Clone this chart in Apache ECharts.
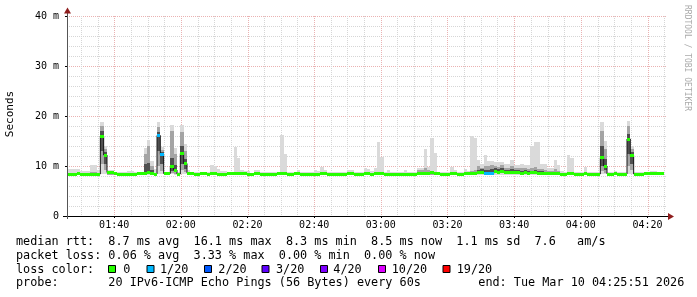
<!DOCTYPE html>
<html><head><meta charset="utf-8">
<script src="https://cdn.jsdelivr.net/npm/echarts@6/dist/echarts.min.js"></script>
<style>html,body{margin:0;padding:0;background:#fff}#c{width:697px;height:297px}</style>
</head><body><div id="c"></div>
<script>
// ---------------- data ----------------
const startTime = '01:25:51';
const xTickLabels = ['01:40','02:00','02:20','02:40','03:00','03:20','03:40','04:00','04:20'];
const yTickLabels = ['0','10 m','20 m','30 m','40 m'];

// one sample per minute, values in ms
const pMin = [8.2,8.2,8.2,8.2,8.2,8.2,8.2,8.2,8.2,8.2,
 8.5,8.5,8.2,8.2,8.2,8.1,8.2,8.2,8.2,8.2,
 8.2,8.2,8.2,8.2,8.2,8.2,8.2,8.5,8.4,8.2,
 8.2,8.4,8.3,8.2,8.5,8.4,8.2,8.2,8.2,8.2,
 8.2,8.2,8.2,8.2,8.2,8.2,8.2,8.2,8.2,8.2,
 8.2,8.2,8.2,8.2,8.1,8.1,8.2,8.2,8.2,8.2,
 8.2,8.2,8.2,8.2,8.2,8.2,8.2,8.2,8.2,8.2,
 8.2,8.2,8.2,8.1,8.2,8.2,8.2,8.2,8.2,8.2,
 8.2,8.2,8.2,8.2,8.2,8.2,8.2,8.2,8.2,8.2,
 8.2,8.2,8.2,8.2,8.2,8.2,8.2,8.2,8.2,8.1,
 8.1,8.2,8.2,8.2,8.2,8.2,8.2,8.2,8.2,8.2,
 8.2,8.2,8.2,8.2,8.2,8.2,8.2,8.2,8.2,8.2,
 8.2,8.2,8.2,8.3,8.3,8.3,8.3,8.3,8.3,8.3,
 8.3,8.3,8.3,8.3,8.3,8.3,8.3,8.3,8.3,8.3,
 8.3,8.3,8.3,8.2,8.2,8.2,8.2,8.2,8.2,8.2,
 8.2,8.2,8.2,8.2,8.2,8.2,8.2,8.2,8.2,8.2,
 8.4,8.4,8.2,8.2,8.2,8.2,8.2,8.2,8.5,8.4,
 8.2,8.2,8.2,8.2,8.2,8.2,8.2,8.2,8.2];
const p4 = [8.3,8.3,8.3,8.3,8.3,8.3,8.3,8.3,8.3,8.3,
 10.4,9.2,8.3,8.3,8.3,8.3,8.3,8.3,8.3,8.3,
 8.3,8.3,8.3,8.4,8.4,8.3,8.3,10.0,9.0,8.3,
 8.3,8.6,8.5,8.3,9.2,8.8,8.3,8.3,8.3,8.3,
 8.3,8.3,8.3,8.3,8.3,8.3,8.3,8.3,8.3,8.3,
 8.3,8.3,8.3,8.3,8.3,8.3,8.3,8.3,8.3,8.3,
 8.3,8.3,8.3,8.3,8.3,8.3,8.3,8.3,8.3,8.3,
 8.3,8.3,8.3,8.3,8.3,8.3,8.3,8.3,8.3,8.3,
 8.3,8.3,8.3,8.3,8.3,8.3,8.3,8.3,8.3,8.3,
 8.3,8.3,8.3,8.3,8.3,8.3,8.3,8.3,8.3,8.3,
 8.3,8.3,8.3,8.3,8.3,8.3,8.3,8.3,8.3,8.3,
 8.3,8.3,8.3,8.3,8.3,8.3,8.3,8.3,8.3,8.3,
 8.3,8.3,8.3,8.5,8.5,8.4,8.4,8.4,8.6,8.5,
 8.6,8.5,8.5,8.5,8.5,8.5,8.4,8.5,8.4,8.5,
 8.5,8.4,8.4,8.3,8.3,8.3,8.4,8.3,8.3,8.3,
 8.3,8.3,8.3,8.3,8.3,8.3,8.3,8.3,8.3,8.3,
 9.0,8.7,8.3,8.3,8.3,8.3,8.3,8.3,10.0,9.2,
 8.3,8.3,8.3,8.3,8.3,8.3,8.3,8.3,8.3];
const p8 = [8.4,8.4,8.4,8.4,8.4,8.4,8.4,8.4,8.4,8.4,
 13.1,10.5,8.4,8.4,8.4,8.4,8.4,8.4,8.4,8.4,
 8.4,8.4,8.4,8.5,8.5,8.4,8.4,13.0,10.5,8.4,
 8.4,9.0,8.8,8.4,10.5,9.5,8.4,8.4,8.4,8.4,
 8.4,8.4,8.4,8.4,8.4,8.4,8.4,8.4,8.4,8.4,
 8.4,8.4,8.4,8.4,8.4,8.4,8.4,8.4,8.4,8.4,
 8.4,8.4,8.4,8.4,8.4,8.4,8.4,8.4,8.4,8.4,
 8.4,8.4,8.4,8.4,8.4,8.4,8.4,8.4,8.4,8.4,
 8.4,8.4,8.4,8.4,8.4,8.4,8.4,8.4,8.4,8.4,
 8.4,8.4,8.4,8.4,8.4,8.4,8.4,8.4,8.4,8.4,
 8.4,8.4,8.4,8.4,8.4,8.4,8.4,8.4,8.4,8.4,
 8.4,8.4,8.4,8.4,8.4,8.4,8.4,8.4,8.4,8.4,
 8.4,8.4,8.4,8.6,8.7,8.5,8.5,8.5,8.7,8.7,
 8.8,8.7,8.6,8.6,8.6,8.6,8.5,8.6,8.5,8.6,
 8.6,8.5,8.5,8.4,8.4,8.4,8.5,8.4,8.4,8.4,
 8.4,8.4,8.4,8.4,8.4,8.4,8.4,8.4,8.4,8.4,
 10.0,9.2,8.4,8.4,8.4,8.4,8.4,8.4,12.5,10.5,
 8.4,8.4,8.4,8.4,8.4,8.4,8.4,8.4,8.4];
const med = [8.4,8.4,8.4,8.5,8.4,8.4,8.4,8.4,8.4,8.4,
 16.0,12.2,8.7,8.7,8.5,8.4,8.3,8.3,8.3,8.4,
 8.4,8.5,8.5,8.6,8.7,8.5,8.4,16.1,12.3,8.5,
 8.5,9.9,9.2,8.4,12.5,10.5,8.6,8.5,8.4,8.4,
 8.5,8.5,8.4,8.5,8.5,8.4,8.4,8.4,8.5,8.5,
 8.5,8.5,8.6,8.5,8.3,8.3,8.5,8.5,8.4,8.4,
 8.4,8.4,8.4,8.5,8.5,8.5,8.4,8.4,8.5,8.5,
 8.4,8.4,8.4,8.3,8.4,8.4,8.5,8.5,8.4,8.4,
 8.4,8.4,8.4,8.4,8.5,8.5,8.4,8.4,8.4,8.5,
 8.5,8.4,8.5,8.6,8.5,8.4,8.4,8.4,8.4,8.3,
 8.3,8.4,8.4,8.4,8.4,8.5,8.6,8.6,8.6,8.7,
 8.6,8.5,8.4,8.4,8.4,8.5,8.5,8.4,8.4,8.5,
 8.5,8.6,8.6,8.7,8.8,8.6,8.6,8.6,8.9,8.8,
 8.9,8.8,8.7,8.8,8.7,8.7,8.6,8.7,8.6,8.7,
 8.7,8.6,8.6,8.5,8.5,8.5,8.6,8.5,8.4,8.4,
 8.5,8.5,8.4,8.4,8.4,8.5,8.4,8.4,8.4,8.4,
 11.7,10.0,8.4,8.4,8.5,8.4,8.4,8.4,15.4,12.1,
 8.4,8.4,8.4,8.5,8.5,8.5,8.5,8.5,8.5];
const p13 = [8.6,8.6,8.6,8.6,8.6,8.6,8.6,8.6,8.6,8.6,
 17.0,12.8,8.7,8.7,8.6,8.6,8.6,8.6,8.6,8.6,
 8.6,8.6,8.6,10.5,10.6,9.2,8.6,16.8,12.8,8.6,
 8.6,11.7,10.3,8.6,14.0,11.5,8.6,8.6,8.6,8.6,
 8.6,8.6,8.6,8.6,8.6,8.6,8.6,8.6,8.6,8.6,
 8.6,8.6,8.7,8.6,8.6,8.6,8.6,8.6,8.6,8.6,
 8.6,8.6,8.6,8.6,8.6,8.6,8.6,8.6,8.6,8.6,
 8.6,8.6,8.6,8.6,8.6,8.6,8.6,8.6,8.6,8.6,
 8.6,8.6,8.6,8.6,8.6,8.6,8.6,8.6,8.6,8.6,
 8.6,8.6,8.6,8.6,8.6,8.6,8.6,8.6,8.6,8.6,
 8.6,8.6,8.6,8.6,8.6,8.9,8.9,8.9,8.9,8.8,
 8.7,8.6,8.6,8.6,8.6,8.6,8.6,8.6,8.6,8.6,
 8.6,8.8,8.8,9.3,9.4,9.2,9.3,9.5,9.6,9.4,
 9.7,9.3,9.2,9.4,9.2,9.3,9.1,9.2,9.0,9.1,
 9.2,9.0,9.0,8.9,8.8,8.8,8.9,8.8,8.6,8.6,
 8.6,8.6,8.6,8.6,8.6,8.6,8.6,8.6,8.6,8.6,
 14.0,11.5,8.6,8.6,8.6,8.6,8.6,8.6,16.5,12.8,
 8.6,8.6,8.6,8.6,8.6,8.6,8.6,8.6,8.6];
const p17 = [8.7,8.7,8.7,8.7,8.7,8.7,8.7,8.8,8.8,8.7,
 18.0,13.5,8.9,8.9,8.7,8.7,8.7,8.7,8.7,8.7,
 8.7,8.7,8.7,12.5,14.0,10.0,8.7,17.8,13.3,8.7,
 8.7,17.0,12.5,8.7,16.8,13.0,8.8,8.7,8.7,8.7,
 8.7,8.7,8.7,8.7,8.7,8.7,8.7,8.7,8.7,8.7,
 8.9,8.8,8.9,8.7,8.7,8.7,8.7,8.7,8.7,8.7,
 8.7,8.7,8.7,8.7,8.7,8.7,8.7,8.7,8.7,8.7,
 8.7,8.7,8.7,8.7,8.7,8.7,8.7,8.7,8.7,8.7,
 8.7,8.7,8.7,8.7,8.7,8.7,8.7,8.7,8.7,8.7,
 8.7,8.7,8.7,8.9,8.8,8.7,8.7,8.7,8.7,8.7,
 8.7,8.7,8.7,8.7,8.7,9.2,9.2,9.6,9.2,9.0,
 8.9,8.7,8.7,8.7,8.7,8.8,8.7,8.7,8.7,8.7,
 8.7,9.0,9.2,10.0,9.7,10.1,10.0,10.2,10.1,9.9,
 10.2,9.7,9.6,10.1,9.6,9.6,9.7,9.6,9.4,9.7,
 9.8,9.5,9.4,9.3,9.1,9.1,9.4,9.1,8.7,8.7,
 8.9,8.8,8.7,8.7,8.7,8.7,8.7,8.7,8.7,8.7,
 17.0,13.5,8.7,8.7,8.7,8.7,8.7,8.7,18.0,13.5,
 8.7,8.7,8.7,8.7,8.7,8.7,8.7,8.7,8.7];
const pMax = [9.4,9.4,9.5,9.4,9.0,9.1,9.0,10.2,10.3,9.3,
 18.9,14.1,9.2,9.3,8.9,8.9,8.8,8.9,9.0,9.1,
 8.8,8.9,8.8,13.7,15.3,11.0,9.4,18.8,13.9,8.8,
 8.9,18.3,13.6,8.8,18.3,14.4,9.3,8.9,8.8,8.9,
 8.8,8.9,8.8,10.2,10.0,9.5,9.0,9.0,8.8,8.8,
 13.9,11.7,9.2,9.0,9.0,8.7,9.2,9.2,8.8,8.8,
 8.9,8.8,8.8,8.9,16.3,12.5,8.8,8.9,8.8,9.2,
 8.8,8.8,8.9,8.8,9.2,9.0,9.9,9.2,8.8,8.9,
 8.8,8.8,8.9,8.8,9.2,9.2,8.8,8.8,8.9,9.6,
 9.5,9.0,9.6,14.9,11.9,8.8,9.2,8.8,8.9,8.8,
 8.8,9.2,8.9,8.9,8.9,9.6,9.6,13.4,9.8,15.7,
 12.7,8.8,8.9,8.8,8.8,9.9,9.2,8.8,8.9,9.5,
 9.0,16.1,15.7,11.3,10.4,12.2,11.0,11.0,10.9,10.9,
 10.9,10.4,10.4,11.2,10.3,10.2,10.4,10.3,10.2,14.1,
 14.9,14.9,10.4,10.4,9.7,9.7,11.2,10.3,9.0,8.9,
 12.2,11.7,8.8,8.9,8.8,9.9,8.8,8.9,8.8,8.9,
 18.8,15.1,8.8,8.9,9.0,8.8,8.8,8.9,19.0,14.1,
 8.8,8.8,8.9,8.8,8.8,9.0,9.0,8.8,8.8];
// lost pings out of 20 per sample
const loss = [0,0,0,0,0,0,0,0,0,0, 0,0,0,0,0,0,0,0,0,0,
 0,0,0,0,0,0,0,1,1,0, 0,0,0,0,0,0,0,0,0,0,
 0,0,0,0,0,0,0,0,0,0, 0,0,0,0,0,0,0,0,0,0,
 0,0,0,0,0,0,0,0,0,0, 0,0,0,0,0,0,0,0,0,0,
 0,0,0,0,0,0,0,0,0,0, 0,0,0,0,0,0,0,0,0,0,
 0,0,0,0,0,0,0,0,0,0, 0,0,0,0,0,0,0,0,0,0,
 0,0,0,0,0,1,1,1,0,0, 0,0,0,0,0,0,0,0,0,0,
 0,0,0,0,0,0,0,0,0,0, 0,0,0,0,0,0,0,0,0,0,
 0,0,0,0,0,0,0,0,0,0, 0,0,0,0,0,0,0,0,0];

const lossLevels = [0,1,2,3,4,10,19];
const lossLabels = ['0','1/20','2/20','3/20','4/20','10/20','19/20'];
const lossColors = ['#26ff00','#00b8ff','#0059ff','#5e00ff','#7e00ff','#dd00ff','#ff0000'];
const statLines = [
 'median rtt:  8.7 ms avg  16.1 ms max  8.3 ms min  8.5 ms now  1.1 ms sd  7.6   am/s',
 'packet loss: 0.06 % avg  3.33 % max  0.00 % min  0.00 % now'];
const lossTitle = 'loss color:';
const probeText = 'probe:       20 IPv6-ICMP Echo Pings (56 Bytes) every 60s';
const endText = 'end: Tue Mar 10 04:25:51 2026';
const yTitle = 'Seconds';
const watermark = 'RRDTOOL / TOBI OETIKER';

// ---------------- chart ----------------
const toMin = s => { const p = s.split(':').map(Number); return p[0]*60 + p[1] + (p[2]||0)/60; };
const T0 = toMin(startTime);
const SPAN = 180;
const N = med.length;
const xTickVals = xTickLabels.map(toMin);
const vGrid = [];
for (let m = Math.ceil(T0/5)*5; m <= T0 + SPAN; m += 5) vGrid.push(m);
function lossColor(l){ let c = lossColors[0]; for (let k=0;k<lossLevels.length;k++) if (l >= lossLevels[k]) c = lossColors[k]; return c; }

const MONO = 'DejaVu Sans Mono';
const MAJ = '#eab2b2', MIN = '#d6d6d6';
const chart = echarts.init(document.getElementById('c'), null, {renderer:'canvas'});

const graphics = [];
graphics.push({type:'line', shape:{x1:63, y1:216.5, x2:670, y2:216.5}, style:{stroke:'#000', lineWidth:1}, z:50});
graphics.push({type:'line', shape:{x1:67.5, y1:219, x2:67.5, y2:12}, style:{stroke:'#555', lineWidth:1}, z:50});
graphics.push({type:'polygon', shape:{points:[[64,13.5],[71,13.5],[67.5,7.5]]}, style:{fill:'#8f1d1d'}, z:51});
graphics.push({type:'polygon', shape:{points:[[668,213],[668,220],[674,216.5]]}, style:{fill:'#8f1d1d'}, z:51});
graphics.push({type:'text', x:10.5, y:114, rotation:Math.PI/2, style:{text:yTitle, x:0, y:0, align:'center', verticalAlign:'middle', fontFamily:MONO, fontSize:11, fill:'#000'}});
graphics.push({type:'text', x:687, y:5, rotation:-Math.PI/2, style:{text:watermark, x:0, y:0, align:'left', verticalAlign:'middle', fontFamily:MONO, fontSize:8, fill:'#aaaaaa'}});
const LF = 11.8;
const lineY = [241.5, 255.5, 269.5, 283.3];
graphics.push({type:'text', style:{text:statLines[0], x:16, y:lineY[0], verticalAlign:'middle', fontFamily:MONO, fontSize:LF, fill:'#000'}});
graphics.push({type:'text', style:{text:statLines[1], x:16, y:lineY[1], verticalAlign:'middle', fontFamily:MONO, fontSize:LF, fill:'#000'}});
graphics.push({type:'text', style:{text:lossTitle, x:16, y:lineY[2], verticalAlign:'middle', fontFamily:MONO, fontSize:LF, fill:'#000'}});
const lossBoxX = [108.5, 147, 204.5, 262, 320.5, 378.5, 443];
const lossTextX = [123.3, 160, 218.3, 276, 333.3, 391.7, 456.7];
lossLabels.forEach((lab, k) => {
  graphics.push({type:'rect', shape:{x:lossBoxX[k], y:265.5, width:7, height:7}, style:{fill:lossColors[k], stroke:'#000', lineWidth:1}});
  graphics.push({type:'text', style:{text:lab, x:lossTextX[k], y:lineY[2], verticalAlign:'middle', fontFamily:MONO, fontSize:LF, fill:'#000'}});
});
graphics.push({type:'text', style:{text:probeText, x:16, y:lineY[3], verticalAlign:'middle', fontFamily:MONO, fontSize:LF, fill:'#000'}});
graphics.push({type:'text', style:{text:endText, x:478.3, y:lineY[3], verticalAlign:'middle', fontFamily:MONO, fontSize:LF, fill:'#000'}});

const idxData = med.map((v,i) => [T0 + i, v]);
function colX(api, i){
  return [Math.round(api.coord([T0+i, 0])[0]), Math.round(api.coord([T0+i+1, 0])[0])];
}

chart.setOption({
  animation:false,
  backgroundColor:'#ffffff',
  grid:{left:67, top:16, width:600, height:200, containLabel:false, outerBoundsMode:'none'},
  xAxis:{type:'value', min:T0, max:T0+SPAN,
    axisLine:{show:false}, splitLine:{show:false},
    axisTick:{show:true, customValues:xTickVals, length:2, lineStyle:{color:'#000'}},
    axisLabel:{show:true, customValues:xTickVals, margin:4, fontFamily:MONO, fontSize:10, color:'#000',
      formatter:(v)=>{ const k = xTickVals.findIndex(t => Math.abs(t-v) < 1e-6); return k >= 0 ? xTickLabels[k] : ''; }}
  },
  yAxis:{type:'value', min:0, max:40, interval:10,
    axisLine:{show:false},
    axisTick:{show:true, length:2, lineStyle:{color:'#000'}},
    axisLabel:{margin:8, fontFamily:MONO, fontSize:10, color:'#000', formatter:(v)=>yTickLabels[Math.round(v/10)]},
    splitLine:{show:true, lineStyle:{color:MAJ, width:1, type:[1,1]}},
    minorTick:{show:false, splitNumber:5},
    minorSplitLine:{show:true, lineStyle:{color:MIN, width:1, type:[1,1]}}
  },
  graphic: graphics,
  series:[
    {
      type:'custom', z:1, silent:true, clip:false,
      data: vGrid.map(v => [v, v % 20 === 0 ? 1 : 0]),
      renderItem:(params, api) => {
        const v = api.value(0), major = api.value(1);
        const a = api.coord([v, 0]), b = api.coord([v, 40]);
        const x = Math.round(a[0]) + 0.5;
        return {type:'line', shape:{x1:x, y1:b[1], x2:x, y2:a[1]}, style:{stroke: major ? MAJ : MIN, lineWidth:1, lineDash:[1,1], fill:null}};
      }
    },
    {
      type:'custom', z:2, silent:true, clip:true,
      data: idxData,
      renderItem:(params, api) => {
        const i = params.dataIndex;
        const [xa, xb] = colX(api, i);
        const Y = v => Math.round(api.coord([T0, v])[1]);
        const band = (lo, hi, c) => ({type:'rect', shape:{x:xa, y:Y(hi), width:xb-xa, height:Math.max(0, Y(lo)-Y(hi))}, style:{fill:c}});
        return {type:'group', children:[
          band(pMin[i], pMax[i], '#dadada'),
          band(p4[i], p17[i], '#a4a4a4'),
          band(p8[i], p13[i], '#505050')
        ]};
      }
    },
    {
      type:'line', z:3, silent:true, step:'end', symbol:'none',
      data: idxData.concat([[T0 + N, med[N-1]]]),
      lineStyle:{color:'#1a1a1a', width:1}
    },
    {
      type:'custom', z:4, silent:true, clip:true,
      data: idxData,
      renderItem:(params, api) => {
        const i = params.dataIndex;
        const [xa, xb] = colX(api, i);
        const y = api.coord([T0, med[i]])[1];
        return {type:'rect', shape:{x:xa, y:Math.round(y - 1.5), width:xb-xa, height:3}, style:{fill:lossColor(loss[i])}};
      }
    }
  ]
});
</script>
</body></html>
